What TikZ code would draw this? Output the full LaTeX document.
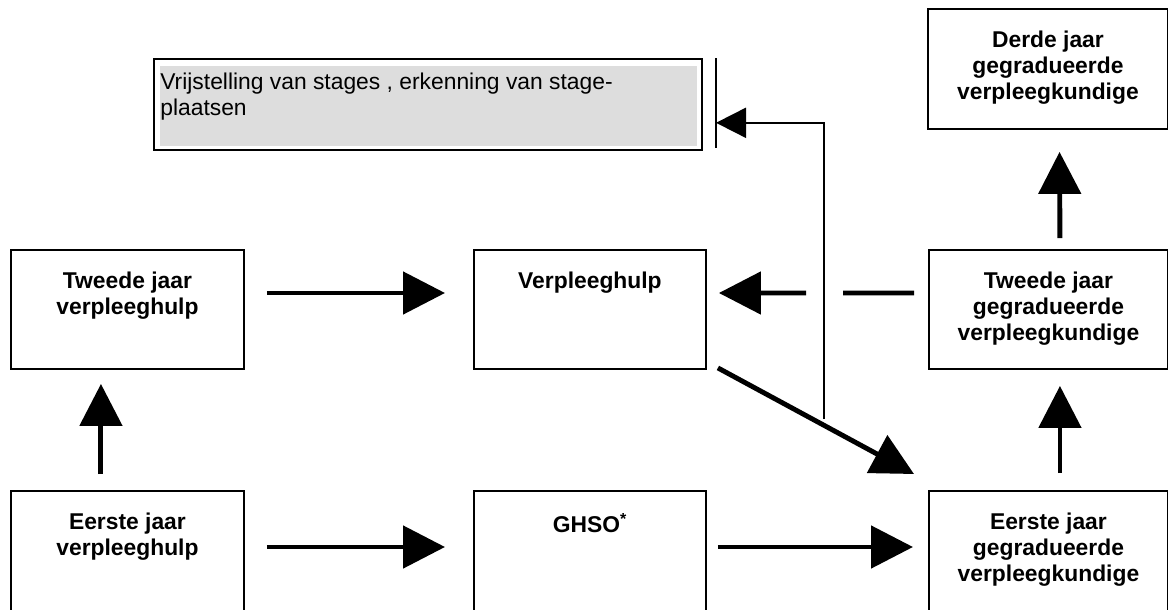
\documentclass[tikz,border=0pt]{standalone}
\usepackage{fontspec}
\setmainfont{Liberation Sans}
\usepackage{tikz}
\usetikzlibrary{arrows.meta,calc,positioning}
\definecolor{grijs}{HTML}{DDDDDD}

\tikzset{
  stapbox/.style={draw, line width=1.1pt, anchor=north west, inner sep=0pt,
                  minimum width=4.66cm, minimum height=2.38cm},
  stapkop/.style={anchor=north, yshift=-0.46cm, inner sep=0pt, align=center,
                  font=\fontsize{13}{14.6}\selectfont\bfseries},
  vrijbox/.style={draw, line width=1.3pt, anchor=north west, inner sep=0pt,
                  minimum width=10.96cm, minimum height=1.82cm,
                  path picture={\fill[grijs]
                    ([shift={(0.12cm,-0.14cm)}]path picture bounding box.north west) rectangle
                    ([shift={(-0.1cm,0.08cm)}]path picture bounding box.south east);}},
  vrijtekst/.style={anchor=north west, xshift=0.14cm, yshift=-0.3cm, inner sep=0pt,
                    align=left, font=\fontsize{13}{14.6}\selectfont},
  pijl/.style={line width=2.8pt, -{Triangle[length=0.84cm,width=0.84cm]}},
  dunpijl/.style={line width=1.1pt, -{Triangle[length=0.6cm,width=0.6cm]}},
}

\begin{document}
\begin{tikzpicture}[x=0.02cm,y=-0.02cm]
  \clip (0,0) rectangle (1168,609);

  % bovenste rij
  \node[vrijbox, label={[vrijtekst]north west:Vrijstelling van stages , erkenning van stage-\\plaatsen}] (vrij) at (153,58) {};
  \coordinate (balkboven) at (716,58);
  \coordinate (balkonder) at (716,148);
  \draw[line width=1.3pt] (balkboven) -- (balkonder);
  \node[stapbox, minimum width=4.8cm, minimum height=2.4cm,
        label={[stapkop]north:Derde jaar\\gegradueerde\\verpleegkundige}] (dgv) at (927,8) {};

  % middelste rij
  \node[stapbox, label={[stapkop]north:Tweede jaar\\verpleeghulp}] (tvh) at (10,249) {};
  \node[stapbox, minimum width=4.64cm, label={[stapkop]north:Verpleeghulp}] (vh) at (473,249) {};
  \node[stapbox, minimum width=4.78cm,
        label={[stapkop]north:Tweede jaar\\gegradueerde\\verpleegkundige}] (tgv) at (928,249) {};

  % onderste rij
  \node[stapbox, minimum height=2.46cm, label={[stapkop]north:Eerste jaar\\verpleeghulp}] (evh) at (10,490) {};
  \node[stapbox, minimum width=4.64cm, minimum height=2.46cm,
        label={[stapkop]north:GHSO\textsuperscript{*}}] (ghso) at (473,490) {};
  \node[stapbox, minimum width=4.78cm, minimum height=2.46cm,
        label={[stapkop]north:Eerste jaar\\gegradueerde\\verpleegkundige}] (egv) at (928,490) {};

  % pijlen
  \draw[pijl, shorten <=0.44cm, shorten >=0.56cm] ([yshift=-0.88cm]tvh.north east) -- ([yshift=-0.88cm]vh.north west);
  \draw[pijl, shorten <=0.44cm, shorten >=0.56cm] ([yshift=-1.14cm]evh.north east) -- ([yshift=-1.14cm]ghso.north west);
  \draw[pijl, shorten <=0.22cm, shorten >=0.3cm] ([yshift=-1.14cm]ghso.north east) -- ([yshift=-1.14cm]egv.north west);
  \draw[pijl, shorten <=0.32cm, shorten >=0.28cm] ([xshift=-0.53cm]evh.north) -- ([xshift=-0.53cm]tvh.south);
  \draw[pijl, shorten <=0.34cm, shorten >=0.32cm] ([xshift=0.23cm]egv.north) -- ([xshift=0.23cm]tgv.south);
  \draw[pijl, shorten <=0.22cm, shorten >=0.44cm] ([xshift=0.23cm]tgv.north) -- ([xshift=0.23cm]dgv.south);

  \coordinate (breukR) at (843,293);
  \coordinate (breukL) at (806,293);
  \draw[line width=2.8pt, shorten <=0.28cm] ([yshift=-0.88cm]tgv.north west) -- (breukR);
  \draw[pijl, shorten >=0.24cm] (breukL) -- ([yshift=-0.88cm]vh.north east);

  \draw[pijl] ([shift={(11,-2)}]vh.south east) -- ([shift={(-14,-16)}]egv.north west);

  \coordinate (aftak) at (824,419);
  \draw[dunpijl] (aftak) |- ($(balkboven)!0.72!(balkonder)$);
\end{tikzpicture}
\end{document}
